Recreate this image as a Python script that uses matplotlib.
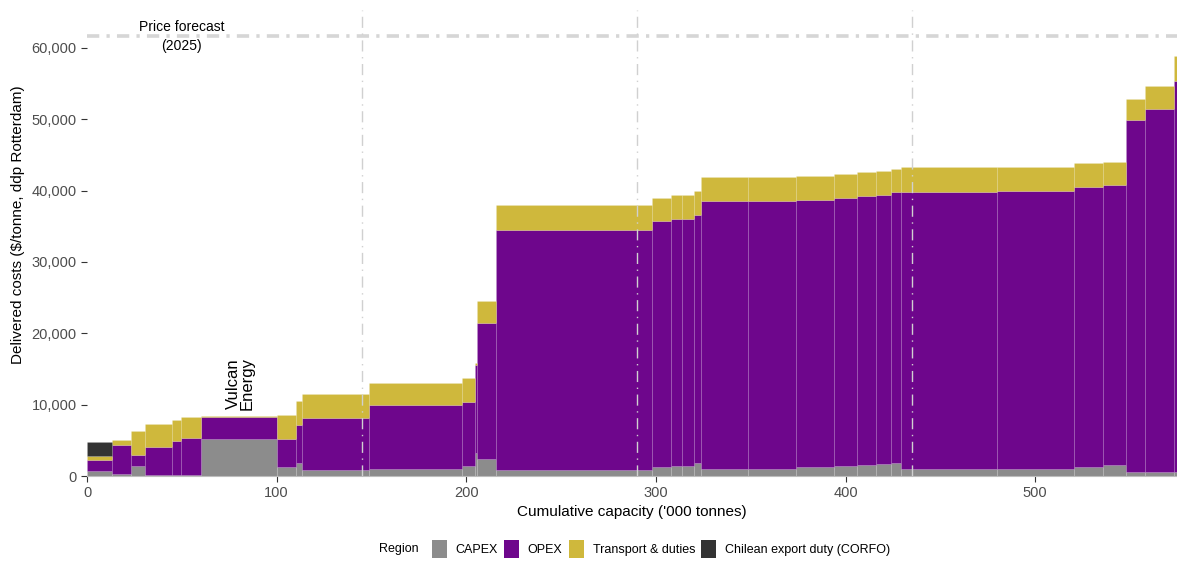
import matplotlib
matplotlib.use('Agg')
from matplotlib import pyplot as plt
from matplotlib.patches import Patch
from matplotlib.ticker import FuncFormatter
import numpy as np

plt.rcParams['font.family'] = ['Liberation Sans', 'DejaVu Sans']

# capacity of each project ('000 tonnes), in cost-curve order
capacity = [13.2, 9.8, 7.6, 14.2, 4.9, 10.2, 40.3, 10.0, 3.4, 35.3, 48.7, 7.2, 0.7,
            10.0, 82.5, 10.0, 6.0, 6.3, 3.3, 25.1, 25.2, 20.2, 12.0, 10.2, 7.7, 5.3,
            50.7, 40.7, 15.0, 12.3, 10.1, 15.3, 6.6]
# cost components ($/tonne)
capex = [740, 240, 1450, 120, 120, 120, 5190, 1300, 1780, 900, 1000, 1360, 3200,
         2430, 840, 1310, 1450, 1450, 1820, 1030, 1030, 1310, 1450, 1590, 1730, 1870,
         1030, 1030, 1310, 1500, 560, 560, 560]
opex = [1500, 4160, 1550, 3950, 4780, 5210, 3090, 3850, 5370, 7190, 8900, 9020, 12370,
        18990, 33700, 34360, 34550, 34550, 34690, 37440, 37440, 37400, 37490, 37630,
        37630, 37860, 38770, 38940, 39180, 39220, 49330, 50820, 54840]
transport = [610, 650, 3300, 3230, 2900, 2950, 140, 3400, 3350, 3360, 3190, 3360, 230,
             3120, 3470, 3280, 3320, 3320, 3460, 3420, 3420, 3360, 3420, 3420, 3420,
             3330, 3490, 3320, 3370, 3320, 2940, 3280, 3410]
corfo = [1920] + [0] * 32

price_forecast = 61600
components = ['CAPEX', 'OPEX', 'Transport & duties', 'Chilean export duty (CORFO)']
colors = ['#8c8c8c', '#6e068c', '#cfb83c', '#333333']

cap = np.array(capacity)
left = np.cumsum(cap) - cap
total = cap.sum()

fig = plt.figure(figsize=(11.77, 5.68), dpi=100)
ax = fig.add_axes([87 / 1177, 92 / 568, 1 - 87 / 1177, 466 / 568])

bottom = np.zeros(len(cap))
for vals, col in zip([capex, opex, transport, corfo], colors):
    vals = np.array(vals, dtype=float)
    ax.bar(left, vals, width=cap, bottom=bottom, align='edge', color=col,
           edgecolor=(1, 1, 1, 0.09), linewidth=0.6, zorder=2)
    bottom += vals

# quartiles of cumulative capacity
for q in [0.25, 0.5, 0.75]:
    ax.axvline(total * q, color='#d0d0d0', lw=1, ls=(0, (8, 4, 1, 4)), zorder=3)

ax.axhline(price_forecast, color='#d6d6d6', lw=2.6, ls=(0, (3.4, 2.0, 0.9, 2.0)), zorder=1)
ax.text(50, price_forecast, 'Price forecast\n(2025)', ha='center', va='center',
        fontsize=10, linespacing=1.5, zorder=4)

ax.text(81, 9200, 'Vulcan\nEnergy', rotation=90, ha='center', va='bottom',
        fontsize=12, linespacing=0.9)

ax.set_xlim(0, 574.8)
ax.set_ylim(0, 65300)
ax.set_xticks([0, 100, 200, 300, 400, 500])
ax.set_yticks(np.arange(0, 60001, 10000))
ax.yaxis.set_major_formatter(FuncFormatter(lambda v, p: f'{int(v):,}'))
ax.tick_params(axis='both', labelsize=10.5, labelcolor='#4d4d4d', color='#333333',
               length=4, width=0.8)
for s in ['top', 'right', 'left']:
    ax.spines[s].set_visible(False)
ax.spines['bottom'].set_color('#bdbdbd')

ax.set_xlabel("Cumulative capacity ('000 tonnes)", fontsize=11, labelpad=3)
ax.set_ylabel('Delivered costs ($/tonne, ddp Rotterdam)', fontsize=11)
ax.yaxis.set_label_coords(-0.057, 0.54)

handles = [Patch(facecolor=c, edgecolor='none') for c in colors]
fig.text(399 / 1177, 1 - 549 / 568, 'Region', fontsize=9, ha='center', va='center')
fig.legend(handles, components, loc='center', bbox_to_anchor=(661 / 1177, 1 - 549 / 568),
           ncol=4, frameon=False, fontsize=9, handlelength=1.2, handleheight=1.8,
           handletextpad=0.7, columnspacing=0.5)

fig.savefig('out.png', dpi=100)
